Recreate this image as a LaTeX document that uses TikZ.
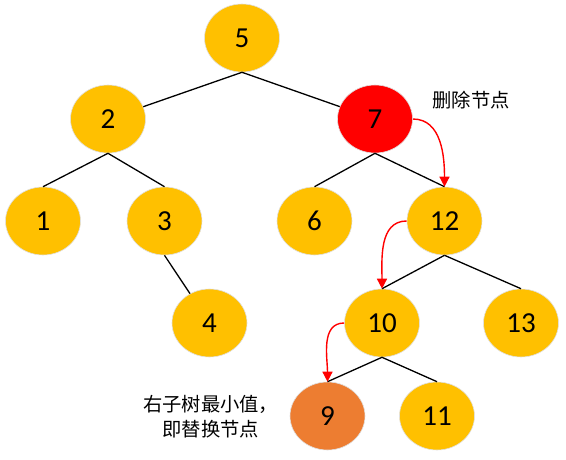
\documentclass[tikz,border=0pt]{standalone}
\usepackage{fontspec}
\setmainfont{Carlito}
\newfontfamily\cjk{Noto Sans CJK SC}
\usetikzlibrary{shapes.geometric,arrows.meta}
\definecolor{keyyellow}{HTML}{FFC000}
\definecolor{keyred}{HTML}{FF0000}
\definecolor{keyorange}{HTML}{ED7D31}
\tikzset{
  key/.style={ellipse,fill=#1,draw=black!12,line width=0.6pt,minimum width=75pt,minimum height=68pt,inner sep=0pt,font=\fontsize{29}{31}\selectfont},
  key/.default=keyyellow,
  link/.style={line width=1.3pt},
  move/.style={red,line width=1.4pt,-{Triangle[length=10pt,width=10pt]}},
  note/.style={inner sep=0pt,font=\cjk\fontsize{19.3}{25}\selectfont}
}

\begin{document}
\begin{tikzpicture}[x=1pt,y=-1pt]
  \useasboundingbox (0,0) rectangle (566,460);
  % the tree
  \node[key] (n5) at (242,38) {5};
  \node[key] (n2) at (108,119) {2};
  \node[key=keyred] (n7) at (375,119) {7};
  \node[key] (n1) at (43,221) {1};
  \node[key] (n3) at (164.5,221) {3};
  \node[key] (n6) at (314.5,221) {6};
  \node[key] (n12) at (444.5,221) {12};
  \node[key] (n4) at (209.5,323) {4};
  \node[key] (n10) at (382,323) {10};
  \node[key] (n13) at (521,323) {13};
  \node[key=keyorange] (n9) at (327.5,416) {9};
  \node[key] (n11) at (437,416) {11};
  \draw[link] (n5.south) -- (n2);
  \draw[link] (n5.south) -- (n7);
  \draw[link] (n2.south) -- (n1.north);
  \draw[link] (n2.south) -- (n3.north);
  \draw[link] (n3.south) -- (n4);
  \draw[link] (n7.south) -- (n6.north);
  \draw[link] (n7.south) -- (n12.north);
  \draw[link] (n12.south) -- (n10.north);
  \draw[link] (n12.south) -- (n13.north);
  \draw[link] (n10.south) -- (n9.north);
  \draw[link] (n10.south) -- (n11.north);
  % search path for the successor
  \draw[move] (n7.east) to[out=0,in=90] (n12.north);
  \draw[move] (n12.west) to[out=180,in=90] (n10.north);
  \draw[move] (n10.west) to[out=180,in=90] (n9.north);
  \node[note] (delnote) at (471,100) {删除节点};
  \node[note,align=left,anchor=west] (minnote) at (143,417) {右子树最小值，\\\hspace{1em}即替换节点};
\end{tikzpicture}
\end{document}
